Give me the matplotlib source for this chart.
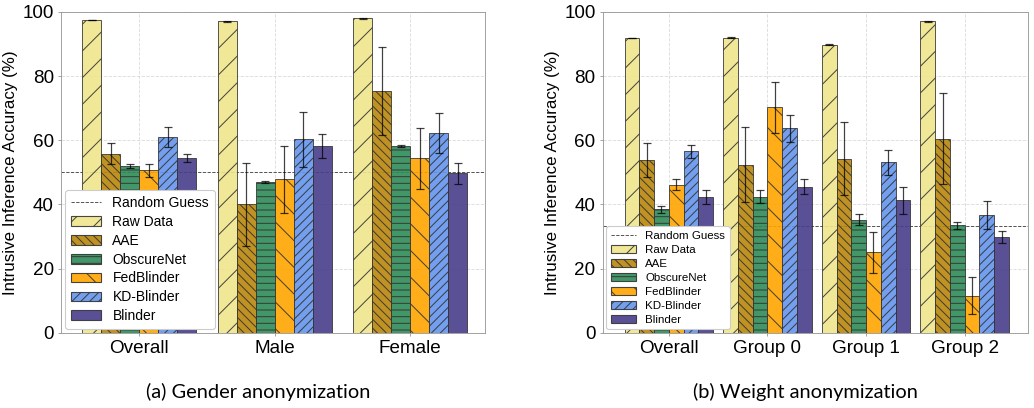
import numpy as np
import matplotlib
matplotlib.use("Agg")
import matplotlib.pyplot as plt
from matplotlib.patches import Patch
from matplotlib.lines import Line2D

plt.rcParams['font.family'] = ['Liberation Sans', 'DejaVu Sans']
plt.rcParams['hatch.linewidth'] = 0.9

methods = ['Raw Data', 'AAE', 'ObscureNet', 'FedBlinder', 'KD-Blinder', 'Blinder']
colors = ['#F0E68C', '#B8860B', '#2E8B57', '#FFA500', '#6495ED', '#483D8B']
hatches = ['/', '\\\\\\', '--', '\\', '///', '']

# (a) gender anonymization
gender_groups = ['Overall', 'Male', 'Female']
gender_mean = [
    [97.5, 97.0, 98.0],   # Raw Data
    [55.8, 40.0, 75.3],   # AAE
    [52.0, 47.0, 58.2],   # ObscureNet
    [50.7, 47.8, 54.4],   # FedBlinder
    [61.0, 60.3, 62.2],   # KD-Blinder
    [54.5, 58.3, 49.7],   # Blinder
]
gender_err = [
    [0.1, 0.1, 0.1],
    [3.3, 13.0, 13.6],
    [0.5, 0.4, 0.4],
    [2.0, 10.3, 9.5],
    [3.0, 8.5, 6.2],
    [1.2, 3.8, 3.3],
]
gender_random = 50.0

# (b) weight anonymization
weight_groups = ['Overall', 'Group 0', 'Group 1', 'Group 2']
weight_mean = [
    [91.8, 92.0, 89.8, 97.0],
    [54.0, 52.4, 54.3, 60.5],
    [38.5, 42.4, 35.3, 33.5],
    [46.2, 70.3, 25.1, 11.6],
    [56.6, 63.8, 53.2, 36.8],
    [42.2, 45.6, 41.3, 29.8],
]
weight_err = [
    [0.1, 0.1, 0.1, 0.1],
    [5.3, 11.6, 11.5, 14.2],
    [1.0, 2.0, 1.7, 1.0],
    [1.6, 8.0, 6.4, 5.8],
    [2.0, 4.2, 3.9, 4.3],
    [2.2, 2.3, 4.2, 1.8],
]
weight_random = 100.0 / 3


def draw(ax, groups, means, errs, rnd, width, xlim, legend_size):
    x = np.arange(len(groups))
    n = len(methods)
    ax.axhline(rnd, color='#444444', linestyle='--', linewidth=0.8, zorder=1)
    for i in range(n):
        pos = x + (i - (n - 1) / 2) * width
        ax.bar(pos, means[i], width, yerr=errs[i], color=colors[i],
               hatch=hatches[i], edgecolor='#333333', linewidth=0.8,
               alpha=0.9, zorder=2,
               error_kw=dict(ecolor='black', elinewidth=1.1, capsize=4,
                             capthick=1.1, alpha=0.75))
    ax.set_xticks(x)
    ax.set_xticklabels(groups, fontsize=17)
    ax.set_xlim(*xlim)
    ax.set_ylim(0, 100)
    ax.set_yticks([0, 20, 40, 60, 80, 100])
    ax.tick_params(axis='y', labelsize=17)
    ax.tick_params(length=3, color='#999999')
    ax.set_ylabel('Intrusive Inference Accuracy (%)', fontsize=15.2, labelpad=4)
    ax.grid(True, color='#dddddd', linestyle='--', linewidth=0.8, zorder=0)
    ax.set_axisbelow(True)
    for s in ax.spines.values():
        s.set_color('#999999')
    handles = [Line2D([0], [0], color='#444444', linestyle='--', linewidth=0.8)]
    for i in range(n):
        handles.append(Patch(facecolor=colors[i], hatch=hatches[i],
                             edgecolor='#333333', alpha=0.9))
    ax.legend(handles, ['Random Guess'] + methods, loc='lower left',
              fontsize=legend_size, borderaxespad=0.3, handlelength=2.2,
              labelspacing=0.35, framealpha=1, edgecolor='#cccccc')


fig = plt.figure(figsize=(1034 / 80, 408 / 80), dpi=80)
ax1 = fig.add_axes([0.059, 0.184, 0.410, 0.787])
ax2 = fig.add_axes([0.583, 0.184, 0.411, 0.787])

draw(ax1, gender_groups, gender_mean, gender_err, gender_random, 0.14,
     (-0.576, 2.55), 12.5)
draw(ax2, weight_groups, weight_mean, weight_err, weight_random, 0.15,
     (-0.67, 3.64), 10.3)

fig.text(0.2495, 0.04, '(a) Gender anonymization', ha='center', va='center',
         fontsize=18, family=['Lato', 'DejaVu Sans'])
fig.text(0.7785, 0.04, '(b) Weight anonymization', ha='center', va='center',
         fontsize=18, family=['Lato', 'DejaVu Sans'])

fig.savefig('out.png', dpi=80)
